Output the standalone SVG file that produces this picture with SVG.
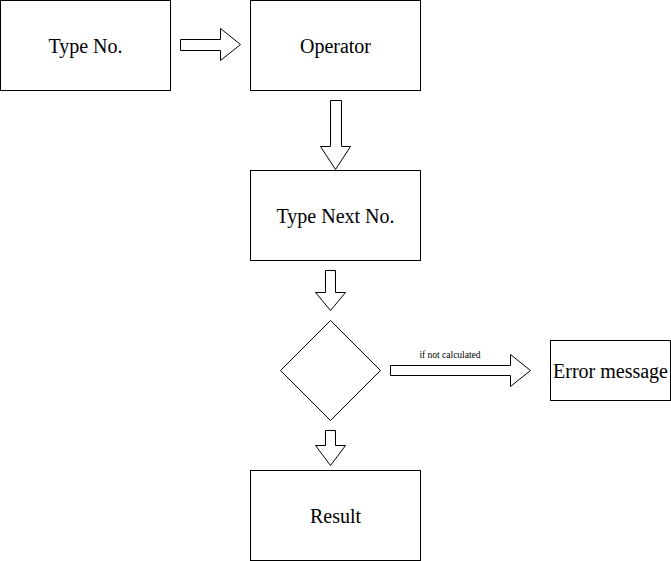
<svg xmlns="http://www.w3.org/2000/svg" width="671" height="561" viewBox="0 0 671 561">
<style>
.box{fill:#fff;stroke:#000;stroke-width:1}
.arr{fill:#fff;stroke:#000;stroke-width:1;stroke-linejoin:miter}
.t{font-family:"Liberation Serif","Times New Roman",serif;font-size:20px;fill:#000;text-anchor:middle}
.s{font-family:"Liberation Serif","Times New Roman",serif;font-size:9.5px;fill:#000;text-anchor:middle}
</style>
<rect width="671" height="561" fill="#fff"/>
<g id="connectors">
<polygon class="arr" points="180.5,39.5 220.5,39.5 220.5,28.5 240.5,44.5 220.5,60.5 220.5,50.5 180.5,50.5"/>
<polygon class="arr" points="330.5,100.5 341.5,100.5 341.5,146.5 350.5,146.5 335.5,169.5 320.5,146.5 330.5,146.5"/>
<polygon class="arr" points="325.5,270.5 335.5,270.5 335.5,292.5 345.5,292.5 330.5,310.5 315.5,292.5 325.5,292.5"/>
<polygon class="arr" points="390.5,365.5 510.5,365.5 510.5,354.5 530.5,370.5 510.5,386.5 510.5,375.5 390.5,375.5"/>
<polygon class="arr" points="325.5,430.5 335.5,430.5 335.5,445.5 345.5,445.5 330.5,465.5 315.5,445.5 325.5,445.5"/>
<text class="s" x="450" y="358">if not calculated</text>
</g>
<g id="type-no">
<rect class="box" x="0.5" y="0.5" width="170" height="90"/>
<text class="t" x="85.5" y="53">Type No.</text>
</g>
<g id="operator">
<rect class="box" x="250.5" y="0.5" width="170" height="90"/>
<text class="t" x="335.5" y="53">Operator</text>
</g>
<g id="type-next-no">
<rect class="box" x="250.5" y="170.5" width="170" height="90"/>
<text class="t" x="335.5" y="223">Type Next No.</text>
</g>
<g id="decision">
<polygon class="box" points="330.5,320.5 380.5,370.5 330.5,420.5 280.5,370.5"/>
</g>
<g id="error-message">
<rect class="box" x="550.5" y="340.5" width="120" height="60"/>
<text class="t" x="610.5" y="378">Error message</text>
</g>
<g id="result">
<rect class="box" x="250.5" y="470.5" width="170" height="90"/>
<text class="t" x="335.5" y="523">Result</text>
</g>
</svg>
